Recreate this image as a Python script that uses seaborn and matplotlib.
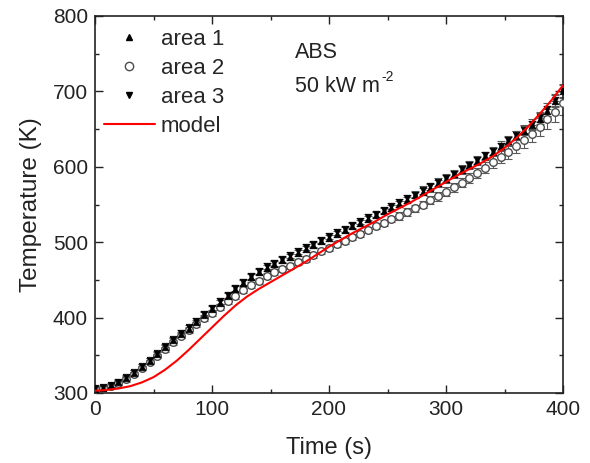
import matplotlib
matplotlib.use("Agg")
import matplotlib.pyplot as plt
from matplotlib.lines import Line2D
from matplotlib.ticker import MultipleLocator
import seaborn as sns

# measured surface temperatures (K), one reading every ~6.7 s
times = [0, 6.7, 13.3, 20, 26.7, 33.3, 40, 46.7, 53.3, 60,
         66.7, 73.3, 80, 86.7, 93.3, 100, 106.7, 113.3, 120, 126.7,
         133.3, 140, 146.7, 153.3, 160, 166.7, 173.3, 180, 186.7, 193.3,
         200, 206.7, 213.3, 220, 226.7, 233.3, 240, 246.7, 253.3, 260,
         266.7, 273.3, 280, 286.7, 293.3, 300, 306.7, 313.3, 320, 326.7,
         333.3, 340, 346.7, 353.3, 360, 366.7, 373.3, 380, 386.7, 393.3, 400]

area1 = [305, 307, 310, 314, 320, 327, 335, 343, 352, 361,
         370, 378, 385, 394, 403, 411, 420, 429, 438, 446,
         454, 461, 466, 471, 476, 481, 486, 491, 496, 501,
         506, 511, 516, 521, 526, 531, 536, 541, 546, 551,
         556, 562, 567, 572, 578, 584, 590, 596, 602, 608,
         614, 620, 627, 634, 641, 648, 655, 664, 674, 687, 700]
area2 = [305, 306, 309, 313, 318, 325, 333, 341, 349, 358,
         367, 376, 383, 391, 399, 406, 414, 422, 429, 436,
         443, 449, 455, 460, 465, 469, 474, 478, 483, 488,
         492, 497, 502, 507, 511, 516, 521, 526, 531, 535,
         540, 545, 550, 556, 561, 567, 573, 579, 585, 592,
         599, 606, 613, 620, 627, 635, 644, 653, 663, 673, 684]
area3 = [306, 308, 311, 315, 321, 328, 336, 344, 353, 362,
         371, 380, 387, 396, 405, 413, 422, 430, 439, 447,
         455, 462, 468, 473, 478, 483, 488, 493, 498, 503,
         508, 513, 518, 523, 528, 533, 538, 543, 548, 553,
         558, 563, 569, 574, 580, 585, 591, 597, 603, 609,
         615, 621, 628, 635, 642, 649, 657, 666, 676, 688, 701]

err1 = [2, 2, 2, 3, 3, 3, 3, 3, 3, 3,
        3, 3, 3, 3, 4, 4, 4, 4, 4, 4,
        4, 4, 4, 4, 4, 4, 4, 4, 4, 4,
        4, 4, 4, 4, 4, 4, 4, 4, 4, 4,
        4, 4, 5, 5, 5, 5, 5, 5, 5, 5,
        5, 5, 5, 6, 6, 6, 6, 7, 7, 8, 9]
err2 = [2, 2, 2, 3, 3, 3, 3, 3, 3, 3,
        3, 3, 3, 3, 4, 4, 4, 4, 4, 4,
        4, 4, 4, 4, 4, 4, 4, 4, 4, 4,
        4, 4, 4, 4, 4, 4, 4, 4, 4, 5,
        5, 5, 5, 5, 6, 6, 6, 6, 7, 7,
        7, 8, 8, 9, 9, 10, 11, 12, 13, 14, 15]
err3 = [2, 2, 2, 3, 3, 3, 3, 3, 3, 3,
        3, 3, 3, 4, 4, 4, 4, 4, 4, 4,
        4, 4, 4, 4, 4, 4, 4, 4, 4, 4,
        4, 4, 4, 4, 4, 4, 4, 4, 4, 4,
        4, 5, 5, 5, 5, 5, 5, 5, 5, 5,
        5, 5, 6, 6, 6, 6, 7, 7, 8, 8, 9]

# model prediction (K)
model_time = list(range(0, 401, 10))
model_temp = [303, 304, 306, 309, 314, 321, 331, 343, 357, 372,
              387, 402, 416, 428, 438, 447, 456, 465, 474, 484,
              494, 503, 512, 520, 528, 537, 545, 553, 562, 571,
              580, 589, 597, 605, 614, 625, 638, 653, 670, 688, 708]

sns.set_theme(style="ticks")
plt.rcParams['font.family'] = ['Liberation Sans', 'DejaVu Sans']

fig = plt.figure(figsize=(5.9, 4.63), dpi=100)
ax = fig.add_axes([95 / 590, 1 - 393 / 463, 468 / 590, 377 / 463])

bar_kw = dict(fmt='none', ecolor='0.35', elinewidth=0.8, capsize=3.2, capthick=0.8, zorder=2)
ax.errorbar(times, area2, yerr=err2, **bar_kw)
ax.errorbar(times, area1, yerr=err1, **bar_kw)
ax.errorbar(times, area3, yerr=err3, **bar_kw)

sns.scatterplot(x=times, y=area2, marker='o', s=30, facecolor='white',
                edgecolor='0.3', linewidth=1.0, ax=ax, zorder=3)
sns.scatterplot(x=times, y=area1, marker='^', s=22, color='black',
                edgecolor='black', linewidth=0.5, ax=ax, zorder=4)
sns.scatterplot(x=times, y=area3, marker='v', s=22, color='black',
                edgecolor='black', linewidth=0.5, ax=ax, zorder=4)
sns.lineplot(x=model_time, y=model_temp, color='red', linewidth=1.5, ax=ax, zorder=5)

ax.set_xlim(0, 400)
ax.set_ylim(300, 800)
ax.xaxis.set_major_locator(MultipleLocator(100))
ax.xaxis.set_minor_locator(MultipleLocator(50))
ax.yaxis.set_major_locator(MultipleLocator(100))
ax.yaxis.set_minor_locator(MultipleLocator(50))
ax.tick_params(which='both', direction='in', top=True, right=True, labelsize=15,
               colors='#222222', width=1.0)
ax.tick_params(which='major', length=6, pad=5)
ax.tick_params(which='minor', length=3)
for sp in ax.spines.values():
    sp.set_linewidth(1.2)
    sp.set_color('#222222')

ax.set_xlabel('Time (s)', fontsize=17, labelpad=13, color='#222222')
ax.set_ylabel('Temperature (K)', fontsize=17.5, color='#222222')
ax.yaxis.set_label_coords(-0.113, 0.5)

ax.text(171, 751, 'ABS', fontsize=15.5, va='center', ha='left', color='#222222')
t50 = ax.text(171, 707, '50 kW m', fontsize=15.5, va='center', ha='left', color='#222222')
ax.annotate('-2', xy=(1.0, 0.62), xycoords=t50, xytext=(1, 0), textcoords='offset points',
            fontsize=10, va='bottom', ha='left', color='#222222')

handles = [
    Line2D([], [], linestyle='none', marker='^', markersize=5, color='black'),
    Line2D([], [], linestyle='none', marker='o', markersize=6, markerfacecolor='white',
           markeredgecolor='0.3'),
    Line2D([], [], linestyle='none', marker='v', markersize=5, color='black'),
    Line2D([], [], color='red', linewidth=1.5),
]
ax.legend(handles, ['area 1', 'area 2', 'area 3', 'model'], loc='upper left',
          frameon=False, fontsize=16, handlelength=2.3, handletextpad=0.25,
          labelspacing=0.36, borderaxespad=0.0, bbox_to_anchor=(0.0, 0.99))

fig.savefig('out.png', dpi=100)
